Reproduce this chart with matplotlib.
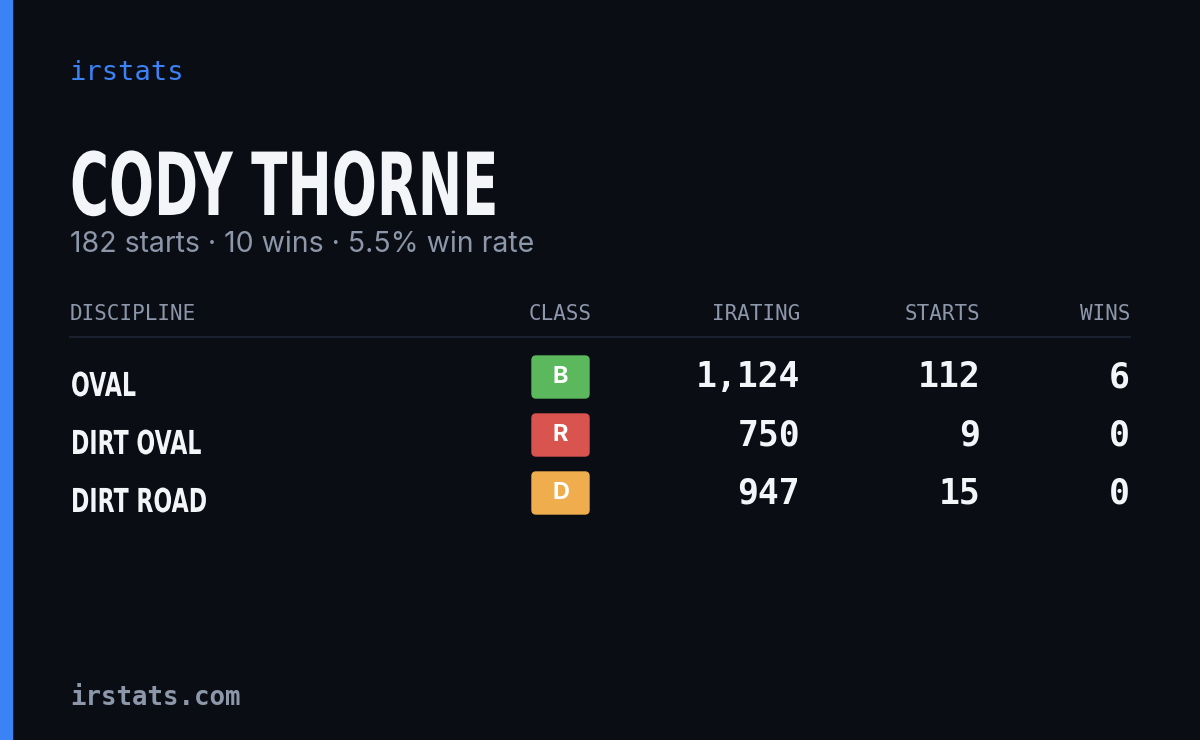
import matplotlib
matplotlib.use("Agg")
import matplotlib.pyplot as plt
from matplotlib.patches import FancyBboxPatch, Rectangle, PathPatch
from matplotlib.textpath import TextPath
from matplotlib.font_manager import FontProperties
from matplotlib.transforms import Affine2D

brand = "irstats"
site = "irstats.com"
name = "CODY THORNE"
subtitle = "182 starts · 10 wins · 5.5% win rate"
headers = ["DISCIPLINE", "CLASS", "IRATING", "STARTS", "WINS"]
disciplines = ["OVAL", "DIRT OVAL", "DIRT ROAD"]
classes = ["B", "R", "D"]
class_colors = ["#5cb85c", "#d9534f", "#f0ad4e"]
iratings = [1124, 750, 947]
starts = [112, 9, 15]
wins = [6, 0, 0]

BG = "#0a0d14"
MUTED = "#8d97aa"
WHITE = "#f4f5f8"
MONO = ["DejaVu Sans Mono"]

fig = plt.figure(figsize=(12, 7.4), dpi=100, facecolor=BG)
ax = fig.add_axes([0, 0, 1, 1])
ax.set_xlim(0, 1200); ax.set_ylim(740, 0); ax.axis("off")
ax.set_facecolor(BG)
ax.add_patch(Rectangle((0, 0), 12, 740, color="#3b82f6"))

def cond_text(x, baseline, s, size_px, sx, color):
    tp = TextPath((0, 0), s, size=size_px, prop=FontProperties(family="DejaVu Sans", weight="bold"))
    tr = Affine2D().scale(sx, -1).translate(x, baseline)
    ax.add_patch(PathPatch(tr.transform_path(tp), color=color, lw=0))

ax.text(70, 73, brand, color="#3b82f6", fontsize=19.5, family=MONO, va="center")
cond_text(70, 215, name, 87, 0.61, WHITE)
ax.text(70, 245, subtitle, color=MUTED, fontsize=20.5, family=["Inter", "DejaVu Sans"], va="center")

hx = [70, 560, 800, 980, 1130]
ha = ["left", "center", "right", "right", "right"]
for h, x, a in zip(headers, hx, ha):
    ax.text(x, 314, h, color=MUTED, fontsize=15, family=MONO, ha=a, va="center")
ax.plot([70, 1130], [337, 337], color="#1c2130", lw=1.5)

for i, d in enumerate(disciplines):
    y = 377 + 58 * i
    cond_text(71, y + 19, d, 33, 0.67, WHITE)
    ax.add_patch(FancyBboxPatch((532 + 4, y - 21 + 4), 57 - 8, 42 - 8,
                                boxstyle="round,pad=4", color=class_colors[i]))
    ax.text(560.5, y, classes[i], color="white", fontsize=17, fontweight="bold",
            family=["Inter", "DejaVu Sans"], ha="center", va="center")
    ax.text(800, y, f"{iratings[i]:,}", color=WHITE, fontsize=25, family=MONO, ha="right", va="center", fontweight="bold")
    ax.text(980, y, f"{starts[i]}", color=WHITE, fontsize=25, family=MONO, ha="right", va="center", fontweight="bold")
    ax.text(1130, y, f"{wins[i]}", color=WHITE, fontsize=25, family=MONO, ha="right", va="center", fontweight="bold")

ax.text(70, 698, site, color=MUTED, fontsize=18.5, family=MONO, va="center", fontweight="bold")
fig.savefig("out.png", dpi=100, facecolor=BG)
